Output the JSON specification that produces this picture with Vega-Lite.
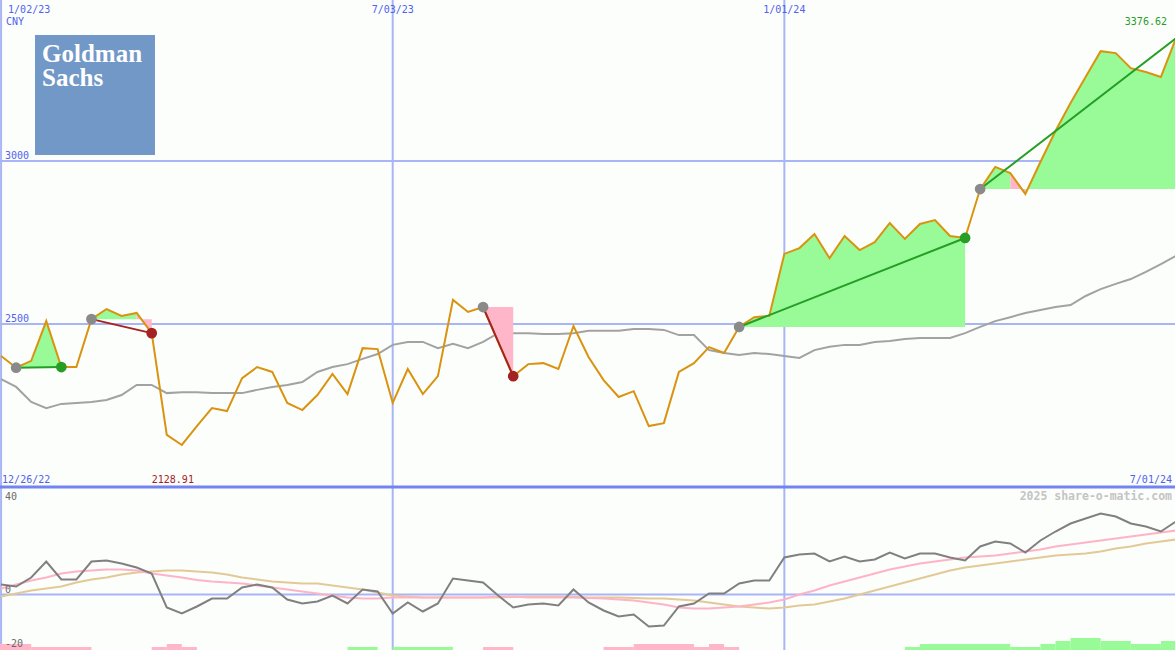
{
  "$schema": "https://vega.github.io/schema/vega-lite/v6.json",
  "background": "#fcfefc",
  "padding": 0,
  "spacing": 0,
  "bounds": "flush",
  "config": {"view": {"stroke": null}, "axis": {"disable": true}, "text": {"font": "DejaVu Sans Mono", "fontSize": 10}},
  "datasets": {
    "main": [
      {"d":"2023-01-02","p":2402,"ma":2331,"m":4.0,"f":2.4,"s":-0.8},
      {"d":"2023-01-09","p":2366,"ma":2307,"m":3.2,"f":4.0,"s":0.4},
      {"d":"2023-01-16","p":2387,"ma":2261,"m":6.8,"f":5.6,"s":1.6},
      {"d":"2023-01-23","p":2509,"ma":2242,"m":13.2,"f":6.8,"s":2.4},
      {"d":"2023-01-30","p":2368,"ma":2255,"m":6.0,"f":8.4,"s":3.2},
      {"d":"2023-02-06","p":2368,"ma":2258,"m":6.0,"f":9.2,"s":4.8},
      {"d":"2023-02-13","p":2515,"ma":2261,"m":13.2,"f":9.6,"s":6.0},
      {"d":"2023-02-20","p":2546,"ma":2267,"m":13.6,"f":10.0,"s":6.8},
      {"d":"2023-02-27","p":2525,"ma":2282,"m":12.4,"f":10.0,"s":8.0},
      {"d":"2023-03-06","p":2534,"ma":2313,"m":10.8,"f":9.6,"s":8.8},
      {"d":"2023-03-13","p":2472,"ma":2313,"m":8.4,"f":8.4,"s":9.2},
      {"d":"2023-03-20","p":2160,"ma":2288,"m":-5.2,"f":7.6,"s":9.6},
      {"d":"2023-03-27","p":2128.91,"ma":2291,"m":-7.6,"f":6.8,"s":9.6},
      {"d":"2023-04-03","p":2187,"ma":2291,"m":-4.8,"f":5.8,"s":9.2},
      {"d":"2023-04-10","p":2242,"ma":2288,"m":-1.6,"f":5.2,"s":8.8},
      {"d":"2023-04-17","p":2233,"ma":2288,"m":-1.6,"f":4.8,"s":8.0},
      {"d":"2023-04-24","p":2334,"ma":2288,"m":2.8,"f":4.4,"s":6.8},
      {"d":"2023-05-01","p":2368,"ma":2298,"m":4.0,"f":3.6,"s":6.0},
      {"d":"2023-05-08","p":2353,"ma":2307,"m":2.8,"f":2.8,"s":5.2},
      {"d":"2023-05-15","p":2258,"ma":2313,"m":-2.0,"f":2.0,"s":4.8},
      {"d":"2023-05-22","p":2236,"ma":2322,"m":-3.6,"f":1.2,"s":4.4},
      {"d":"2023-05-29","p":2282,"ma":2353,"m":-2.8,"f":0.4,"s":4.4},
      {"d":"2023-06-05","p":2347,"ma":2368,"m":-0.4,"f":-0.4,"s":3.6},
      {"d":"2023-06-12","p":2285,"ma":2377,"m":-3.6,"f":-1.2,"s":2.8},
      {"d":"2023-06-19","p":2426,"ma":2393,"m":2.0,"f":-1.6,"s":2.0},
      {"d":"2023-06-26","p":2423,"ma":2408,"m":1.2,"f":-1.6,"s":0.8},
      {"d":"2023-07-03","p":2258,"ma":2436,"m":-7.6,"f":-1.2,"s":-0.4},
      {"d":"2023-07-10","p":2362,"ma":2445,"m":-3.2,"f":-1.2,"s":-0.8},
      {"d":"2023-07-17","p":2285,"ma":2445,"m":-6.8,"f":-1.2,"s":-1.2},
      {"d":"2023-07-24","p":2340,"ma":2426,"m":-3.6,"f":-1.2,"s":-1.2},
      {"d":"2023-07-31","p":2574,"ma":2439,"m":6.4,"f":-1.2,"s":-1.2},
      {"d":"2023-08-07","p":2537,"ma":2426,"m":5.6,"f":-1.2,"s":-1.2},
      {"d":"2023-08-14","p":2552,"ma":2445,"m":4.8,"f":-1.2,"s":-1.2},
      {"d":"2023-08-21","p":2445,"ma":2472,"m":-0.4,"f":-0.8,"s":-1.2},
      {"d":"2023-08-28","p":2340,"ma":2472,"m":-5.2,"f":-0.8,"s":-1.0},
      {"d":"2023-09-04","p":2377,"ma":2472,"m":-4.0,"f":-1.2,"s":-0.8},
      {"d":"2023-09-11","p":2380,"ma":2469,"m":-3.6,"f":-1.2,"s":-0.8},
      {"d":"2023-09-18","p":2362,"ma":2469,"m":-4.4,"f":-1.2,"s":-0.8},
      {"d":"2023-09-25","p":2494,"ma":2472,"m":2.0,"f":-1.2,"s":-1.0},
      {"d":"2023-10-02","p":2399,"ma":2479,"m":-3.2,"f":-1.4,"s":-1.2},
      {"d":"2023-10-09","p":2328,"ma":2479,"m":-6.4,"f":-1.6,"s":-1.2},
      {"d":"2023-10-16","p":2276,"ma":2479,"m":-8.8,"f":-2.0,"s":-1.2},
      {"d":"2023-10-23","p":2294,"ma":2485,"m":-8.0,"f":-2.4,"s":-1.4},
      {"d":"2023-10-30","p":2187,"ma":2485,"m":-12.8,"f":-3.2,"s":-1.6},
      {"d":"2023-11-06","p":2196,"ma":2482,"m":-12.4,"f":-4.0,"s":-1.6},
      {"d":"2023-11-13","p":2353,"ma":2466,"m":-4.8,"f":-5.2,"s":-2.0},
      {"d":"2023-11-20","p":2380,"ma":2466,"m":-3.6,"f":-5.6,"s":-2.4},
      {"d":"2023-11-27","p":2429,"ma":2420,"m":0.4,"f":-5.6,"s":-3.2},
      {"d":"2023-12-04","p":2411,"ma":2411,"m":0.4,"f":-5.2,"s":-4.0},
      {"d":"2023-12-11","p":2491,"ma":2405,"m":4.4,"f":-4.8,"s":-4.8},
      {"d":"2023-12-18","p":2521,"ma":2411,"m":5.6,"f":-4.0,"s":-5.2},
      {"d":"2023-12-25","p":2525,"ma":2408,"m":5.6,"f":-3.2,"s":-5.6},
      {"d":"2024-01-01","p":2715,"ma":2402,"m":14.8,"f":-2.0,"s":-5.2},
      {"d":"2024-01-08","p":2733,"ma":2396,"m":16.0,"f":0.0,"s":-4.4},
      {"d":"2024-01-15","p":2776,"ma":2420,"m":16.4,"f":1.6,"s":-4.0},
      {"d":"2024-01-22","p":2702,"ma":2430,"m":13.2,"f":3.6,"s":-2.8},
      {"d":"2024-01-29","p":2770,"ma":2436,"m":15.2,"f":5.2,"s":-1.6},
      {"d":"2024-02-05","p":2727,"ma":2436,"m":13.2,"f":6.8,"s":0.0},
      {"d":"2024-02-12","p":2751,"ma":2445,"m":14.0,"f":8.4,"s":1.6},
      {"d":"2024-02-19","p":2810,"ma":2448,"m":16.8,"f":10.0,"s":3.2},
      {"d":"2024-02-26","p":2761,"ma":2454,"m":14.4,"f":11.2,"s":4.8},
      {"d":"2024-03-04","p":2807,"ma":2457,"m":16.4,"f":12.4,"s":6.4},
      {"d":"2024-03-11","p":2819,"ma":2457,"m":16.4,"f":13.2,"s":8.0},
      {"d":"2024-03-18","p":2770,"ma":2457,"m":14.8,"f":14.0,"s":9.6},
      {"d":"2024-03-25","p":2764,"ma":2472,"m":13.6,"f":14.8,"s":10.8},
      {"d":"2024-04-01","p":2914,"ma":2491,"m":19.2,"f":15.2,"s":11.6},
      {"d":"2024-04-08","p":2982,"ma":2509,"m":21.2,"f":15.6,"s":12.4},
      {"d":"2024-04-15","p":2963,"ma":2521,"m":20.4,"f":16.4,"s":13.2},
      {"d":"2024-04-22","p":2899,"ma":2534,"m":16.8,"f":17.2,"s":14.0},
      {"d":"2024-04-29","p":2997,"ma":2543,"m":21.6,"f":18.0,"s":14.8},
      {"d":"2024-05-06","p":3092,"ma":2552,"m":25.2,"f":19.2,"s":15.6},
      {"d":"2024-05-13","p":3178,"ma":2558,"m":28.4,"f":20.0,"s":16.0},
      {"d":"2024-05-20","p":3258,"ma":2586,"m":30.4,"f":20.8,"s":16.4},
      {"d":"2024-05-27","p":3337,"ma":2607,"m":32.4,"f":21.6,"s":17.2},
      {"d":"2024-06-03","p":3331,"ma":2623,"m":31.2,"f":22.4,"s":18.4},
      {"d":"2024-06-10","p":3285,"ma":2638,"m":28.4,"f":23.2,"s":19.2},
      {"d":"2024-06-17","p":3273,"ma":2660,"m":27.2,"f":24.0,"s":20.4},
      {"d":"2024-06-24","p":3258,"ma":2684,"m":25.2,"f":24.8,"s":21.2},
      {"d":"2024-07-01","p":3376.62,"ma":2709,"m":29.2,"f":25.6,"s":22.0}
    ],
    "fills": [
      {"d":"2023-01-09","p":2366,"b":2366,"g":"g1","tone":"up"},
      {"d":"2023-01-16","p":2387,"b":2366,"g":"g1","tone":"up"},
      {"d":"2023-01-23","p":2509,"b":2366,"g":"g1","tone":"up"},
      {"d":"2023-01-30","p":2368,"b":2366,"g":"g1","tone":"up"},
      {"d":"2023-02-13","p":2515,"b":2515,"g":"g2","tone":"up"},
      {"d":"2023-02-20","p":2546,"b":2515,"g":"g2","tone":"up"},
      {"d":"2023-02-27","p":2525,"b":2515,"g":"g2","tone":"up"},
      {"d":"2023-03-06","p":2534,"b":2515,"g":"g2","tone":"up"},
      {"d":"2023-03-06","p":2534,"b":2515,"g":"g3","tone":"down"},
      {"d":"2023-03-13","p":2472,"b":2515,"g":"g3","tone":"down"},
      {"d":"2023-08-14","p":2552,"b":2552,"g":"g4","tone":"down"},
      {"d":"2023-08-21","p":2445,"b":2552,"g":"g4","tone":"down"},
      {"d":"2023-08-28","p":2340,"b":2552,"g":"g4","tone":"down"},
      {"d":"2023-12-11","p":2491,"b":2491,"g":"g5","tone":"up"},
      {"d":"2023-12-18","p":2521,"b":2491,"g":"g5","tone":"up"},
      {"d":"2023-12-25","p":2525,"b":2491,"g":"g5","tone":"up"},
      {"d":"2024-01-01","p":2715,"b":2491,"g":"g5","tone":"up"},
      {"d":"2024-01-08","p":2733,"b":2491,"g":"g5","tone":"up"},
      {"d":"2024-01-15","p":2776,"b":2491,"g":"g5","tone":"up"},
      {"d":"2024-01-22","p":2702,"b":2491,"g":"g5","tone":"up"},
      {"d":"2024-01-29","p":2770,"b":2491,"g":"g5","tone":"up"},
      {"d":"2024-02-05","p":2727,"b":2491,"g":"g5","tone":"up"},
      {"d":"2024-02-12","p":2751,"b":2491,"g":"g5","tone":"up"},
      {"d":"2024-02-19","p":2810,"b":2491,"g":"g5","tone":"up"},
      {"d":"2024-02-26","p":2761,"b":2491,"g":"g5","tone":"up"},
      {"d":"2024-03-04","p":2807,"b":2491,"g":"g5","tone":"up"},
      {"d":"2024-03-11","p":2819,"b":2491,"g":"g5","tone":"up"},
      {"d":"2024-03-18","p":2770,"b":2491,"g":"g5","tone":"up"},
      {"d":"2024-03-25","p":2764,"b":2491,"g":"g5","tone":"up"},
      {"d":"2024-04-01","p":2914,"b":2914,"g":"g6","tone":"up"},
      {"d":"2024-04-08","p":2982,"b":2914,"g":"g6","tone":"up"},
      {"d":"2024-04-15","p":2963,"b":2914,"g":"g6","tone":"up"},
      {"d":"2024-04-15","p":2963,"b":2914,"g":"g7","tone":"down"},
      {"d":"2024-04-22","p":2899,"b":2914,"g":"g7","tone":"down"},
      {"d":"2024-04-22","p":2899,"b":2914,"g":"g8","tone":"up"},
      {"d":"2024-04-29","p":2997,"b":2914,"g":"g8","tone":"up"},
      {"d":"2024-05-06","p":3092,"b":2914,"g":"g8","tone":"up"},
      {"d":"2024-05-13","p":3178,"b":2914,"g":"g8","tone":"up"},
      {"d":"2024-05-20","p":3258,"b":2914,"g":"g8","tone":"up"},
      {"d":"2024-05-27","p":3337,"b":2914,"g":"g8","tone":"up"},
      {"d":"2024-06-03","p":3331,"b":2914,"g":"g8","tone":"up"},
      {"d":"2024-06-10","p":3285,"b":2914,"g":"g8","tone":"up"},
      {"d":"2024-06-17","p":3273,"b":2914,"g":"g8","tone":"up"},
      {"d":"2024-06-24","p":3258,"b":2914,"g":"g8","tone":"up"},
      {"d":"2024-07-01","p":3376.62,"b":2914,"g":"g8","tone":"up"}
    ],
    "trades": [
      {"d":"2023-01-09","p":2366,"t":"t1","kind":"entry","res":"win"},
      {"d":"2023-01-30","p":2368,"t":"t1","kind":"win","res":"win"},
      {"d":"2023-02-13","p":2515,"t":"t2","kind":"entry","res":"loss"},
      {"d":"2023-03-13","p":2472,"t":"t2","kind":"loss","res":"loss"},
      {"d":"2023-08-14","p":2552,"t":"t3","kind":"entry","res":"loss"},
      {"d":"2023-08-28","p":2340,"t":"t3","kind":"loss","res":"loss"},
      {"d":"2023-12-11","p":2491,"t":"t4","kind":"entry","res":"win"},
      {"d":"2024-03-25","p":2764,"t":"t4","kind":"win","res":"win"},
      {"d":"2024-04-01","p":2914,"t":"t5","kind":"entry","res":"win"},
      {"d":"2024-07-01","p":3376.62,"t":"t5","kind":"open","res":"win"}
    ],
    "bars": [
      {"d0":"2022-12-26","d1":"2023-01-16","lvl":2,"tone":"down"},
      {"d0":"2023-01-16","d1":"2023-02-13","lvl":1,"tone":"down"},
      {"d0":"2023-03-13","d1":"2023-03-20","lvl":1,"tone":"down"},
      {"d0":"2023-03-20","d1":"2023-03-27","lvl":2,"tone":"down"},
      {"d0":"2023-03-27","d1":"2023-04-03","lvl":1,"tone":"down"},
      {"d0":"2023-06-12","d1":"2023-06-26","lvl":1,"tone":"up"},
      {"d0":"2023-07-03","d1":"2023-07-31","lvl":1,"tone":"up"},
      {"d0":"2023-08-14","d1":"2023-08-28","lvl":1,"tone":"down"},
      {"d0":"2023-10-09","d1":"2023-10-23","lvl":1,"tone":"down"},
      {"d0":"2023-10-23","d1":"2023-11-20","lvl":2,"tone":"down"},
      {"d0":"2023-11-20","d1":"2023-11-27","lvl":1,"tone":"down"},
      {"d0":"2023-11-27","d1":"2023-12-04","lvl":2,"tone":"down"},
      {"d0":"2023-12-04","d1":"2023-12-11","lvl":1,"tone":"down"},
      {"d0":"2024-02-26","d1":"2024-03-04","lvl":1,"tone":"up"},
      {"d0":"2024-03-04","d1":"2024-04-15","lvl":2,"tone":"up"},
      {"d0":"2024-04-15","d1":"2024-04-29","lvl":1,"tone":"up"},
      {"d0":"2024-04-29","d1":"2024-05-06","lvl":2,"tone":"up"},
      {"d0":"2024-05-06","d1":"2024-05-13","lvl":3,"tone":"up"},
      {"d0":"2024-05-13","d1":"2024-05-27","lvl":4,"tone":"up"},
      {"d0":"2024-05-27","d1":"2024-06-10","lvl":3,"tone":"up"},
      {"d0":"2024-06-10","d1":"2024-06-24","lvl":2,"tone":"up"},
      {"d0":"2024-06-24","d1":"2024-07-08","lvl":3,"tone":"up"}
    ],
    "vgrid": [{"d":"2023-01-02"},{"d":"2023-07-03"},{"d":"2024-01-01"}],
    "hgrid": [{"v":2500},{"v":3000}],
    "xlab": [{"d":"2023-07-03","t":"7/03/23"},{"d":"2024-01-01","t":"1/01/24"}]
  },
  "vconcat": [
    {
      "width": 1175,
      "height": 487,
      "layer": [
        {"data":{"name":"vgrid"},"mark":{"type":"rule","color":"#a9b5f5","strokeWidth":2,"clip":true},
         "encoding":{"x":{"field":"d","type":"temporal","scale":{"type":"utc","domain":[{"year":2023,"month":1,"date":1,"hours":12,"utc":true},{"year":2024,"month":6,"date":30,"hours":13,"utc":true}]}}}},
        {"data":{"name":"hgrid"},"mark":{"type":"rule","color":"#a9b5f5","strokeWidth":2,"clip":true},
         "encoding":{"y":{"field":"v","type":"quantitative","scale":{"domain":[2000,3494],"zero":false,"nice":false}}}},
        {"data":{"name":"main"},"mark":{"type":"line","color":"#a2a2a2","strokeWidth":2,"clip":true},
         "encoding":{"x":{"field":"d","type":"temporal","scale":{"type":"utc","domain":[{"year":2023,"month":1,"date":1,"hours":12,"utc":true},{"year":2024,"month":6,"date":30,"hours":13,"utc":true}]}},
                     "y":{"field":"ma","type":"quantitative","scale":{"domain":[2000,3494],"zero":false,"nice":false}}}},
        {"data":{"name":"fills"},"mark":{"type":"area","opacity":1,"clip":true},
         "encoding":{"x":{"field":"d","type":"temporal","scale":{"type":"utc","domain":[{"year":2023,"month":1,"date":1,"hours":12,"utc":true},{"year":2024,"month":6,"date":30,"hours":13,"utc":true}]}},
                     "y":{"field":"p","type":"quantitative","stack":null,"scale":{"domain":[2000,3494],"zero":false,"nice":false}},
                     "y2":{"field":"b"},
                     "color":{"field":"tone","type":"nominal","legend":null,"scale":{"domain":["up","down","win","loss","entry"],"range":["#98fb98","#ffb6c8","#259e25","#a52222","#8a8a8a"]}},
                     "detail":{"field":"g","type":"nominal"}}},
        {"data":{"name":"main"},"mark":{"type":"line","color":"#d9930f","strokeWidth":2,"clip":true},
         "encoding":{"x":{"field":"d","type":"temporal","scale":{"type":"utc","domain":[{"year":2023,"month":1,"date":1,"hours":12,"utc":true},{"year":2024,"month":6,"date":30,"hours":13,"utc":true}]}},
                     "y":{"field":"p","type":"quantitative","scale":{"domain":[2000,3494],"zero":false,"nice":false}}}},
        {"data":{"name":"trades"},"mark":{"type":"line","strokeWidth":2,"clip":true},
         "encoding":{"x":{"field":"d","type":"temporal","scale":{"type":"utc","domain":[{"year":2023,"month":1,"date":1,"hours":12,"utc":true},{"year":2024,"month":6,"date":30,"hours":13,"utc":true}]}},
                     "y":{"field":"p","type":"quantitative","scale":{"domain":[2000,3494],"zero":false,"nice":false}},
                     "color":{"field":"res","type":"nominal","legend":null,"scale":{"domain":["up","down","win","loss","entry"],"range":["#98fb98","#ffb6c8","#259e25","#a52222","#8a8a8a"]}},
                     "detail":{"field":"t","type":"nominal"}}},
        {"data":{"name":"trades"},"transform":[{"filter":"datum.kind != 'open'"}],
         "mark":{"type":"circle","size":115,"opacity":1,"clip":true},
         "encoding":{"x":{"field":"d","type":"temporal","scale":{"type":"utc","domain":[{"year":2023,"month":1,"date":1,"hours":12,"utc":true},{"year":2024,"month":6,"date":30,"hours":13,"utc":true}]}},
                     "y":{"field":"p","type":"quantitative","scale":{"domain":[2000,3494],"zero":false,"nice":false}},
                     "color":{"field":"kind","type":"nominal","legend":null,"scale":{"domain":["up","down","win","loss","entry"],"range":["#98fb98","#ffb6c8","#259e25","#a52222","#8a8a8a"]}}}},
        {"data":{"values":[{}]},"mark":{"type":"rect","color":"#7198c7"},
         "encoding":{"x":{"datum":{"year":2023,"month":1,"date":17,"hours":18,"minutes":30,"utc":true},"type":"temporal","scale":{"type":"utc","domain":[{"year":2023,"month":1,"date":1,"hours":12,"utc":true},{"year":2024,"month":6,"date":30,"hours":13,"utc":true}]}},
                     "x2":{"datum":{"year":2023,"month":3,"date":14,"hours":12,"minutes":45,"utc":true}},
                     "y":{"datum":3386.5,"type":"quantitative","scale":{"domain":[2000,3494],"zero":false,"nice":false}},
                     "y2":{"datum":3018.4}}},
        {"data":{"values":[{}]},"mark":{"type":"text","text":"Goldman","font":"Liberation Serif","fontWeight":"bold","fontSize":25,"color":"#ffffff","align":"left","baseline":"alphabetic"},
         "encoding":{"x":{"datum":{"year":2023,"month":1,"date":21,"hours":0,"minutes":30,"utc":true},"type":"temporal","scale":{"type":"utc","domain":[{"year":2023,"month":1,"date":1,"hours":12,"utc":true},{"year":2024,"month":6,"date":30,"hours":13,"utc":true}]}},
                     "y":{"datum":3305.3,"type":"quantitative","scale":{"domain":[2000,3494],"zero":false,"nice":false}}}},
        {"data":{"values":[{}]},"mark":{"type":"text","text":"Sachs","font":"Liberation Serif","fontWeight":"bold","fontSize":25,"color":"#ffffff","align":"left","baseline":"alphabetic"},
         "encoding":{"x":{"datum":{"year":2023,"month":1,"date":21,"hours":0,"minutes":30,"utc":true},"type":"temporal","scale":{"type":"utc","domain":[{"year":2023,"month":1,"date":1,"hours":12,"utc":true},{"year":2024,"month":6,"date":30,"hours":13,"utc":true}]}},
                     "y":{"datum":3230.2,"type":"quantitative","scale":{"domain":[2000,3494],"zero":false,"nice":false}}}},
        {"data":{"values":[{}]},"mark":{"type":"text","text":"1/02/23","color":"#5062ee","align":"left","baseline":"alphabetic","dx":7,"dy":13},
         "encoding":{"x":{"datum":{"year":2023,"month":1,"date":2,"utc":true},"type":"temporal","scale":{"type":"utc","domain":[{"year":2023,"month":1,"date":1,"hours":12,"utc":true},{"year":2024,"month":6,"date":30,"hours":13,"utc":true}]}},
                     "y":{"datum":3494,"type":"quantitative","scale":{"domain":[2000,3494],"zero":false,"nice":false}}}},
        {"data":{"values":[{}]},"mark":{"type":"text","text":"CNY","color":"#5062ee","align":"left","baseline":"alphabetic","dx":5,"dy":25},
         "encoding":{"x":{"datum":{"year":2023,"month":1,"date":2,"utc":true},"type":"temporal","scale":{"type":"utc","domain":[{"year":2023,"month":1,"date":1,"hours":12,"utc":true},{"year":2024,"month":6,"date":30,"hours":13,"utc":true}]}},
                     "y":{"datum":3494,"type":"quantitative","scale":{"domain":[2000,3494],"zero":false,"nice":false}}}},
        {"data":{"name":"xlab"},"mark":{"type":"text","color":"#5062ee","align":"center","baseline":"alphabetic","dy":13},
         "encoding":{"x":{"field":"d","type":"temporal","scale":{"type":"utc","domain":[{"year":2023,"month":1,"date":1,"hours":12,"utc":true},{"year":2024,"month":6,"date":30,"hours":13,"utc":true}]}},
                     "y":{"datum":3494,"type":"quantitative","scale":{"domain":[2000,3494],"zero":false,"nice":false}},
                     "text":{"field":"t","type":"nominal"}}},
        {"data":{"name":"hgrid"},"mark":{"type":"text","color":"#5062ee","align":"left","baseline":"alphabetic","dx":5,"dy":-2},
         "encoding":{"x":{"datum":{"year":2023,"month":1,"date":1,"hours":12,"utc":true},"type":"temporal","scale":{"type":"utc","domain":[{"year":2023,"month":1,"date":1,"hours":12,"utc":true},{"year":2024,"month":6,"date":30,"hours":13,"utc":true}]}},
                     "y":{"field":"v","type":"quantitative","scale":{"domain":[2000,3494],"zero":false,"nice":false}},
                     "text":{"field":"v","type":"quantitative","format":"d"}}},
        {"data":{"values":[{}]},"mark":{"type":"text","text":"12/26/22","color":"#5062ee","align":"left","baseline":"alphabetic","dx":1,"dy":-4},
         "encoding":{"x":{"datum":{"year":2023,"month":1,"date":2,"utc":true},"type":"temporal","scale":{"type":"utc","domain":[{"year":2023,"month":1,"date":1,"hours":12,"utc":true},{"year":2024,"month":6,"date":30,"hours":13,"utc":true}]}},
                     "y":{"datum":2000,"type":"quantitative","scale":{"domain":[2000,3494],"zero":false,"nice":false}}}},
        {"data":{"values":[{}]},"mark":{"type":"text","text":"2128.91","color":"#a52222","align":"center","baseline":"alphabetic","dx":-9,"dy":-4},
         "encoding":{"x":{"datum":{"year":2023,"month":3,"date":27,"utc":true},"type":"temporal","scale":{"type":"utc","domain":[{"year":2023,"month":1,"date":1,"hours":12,"utc":true},{"year":2024,"month":6,"date":30,"hours":13,"utc":true}]}},
                     "y":{"datum":2000,"type":"quantitative","scale":{"domain":[2000,3494],"zero":false,"nice":false}}}},
        {"data":{"values":[{}]},"mark":{"type":"text","text":"7/01/24","color":"#5062ee","align":"right","baseline":"alphabetic","dx":-4,"dy":-4},
         "encoding":{"x":{"datum":{"year":2024,"month":7,"date":1,"utc":true},"type":"temporal","scale":{"type":"utc","domain":[{"year":2023,"month":1,"date":1,"hours":12,"utc":true},{"year":2024,"month":6,"date":30,"hours":13,"utc":true}]}},
                     "y":{"datum":2000,"type":"quantitative","scale":{"domain":[2000,3494],"zero":false,"nice":false}}}},
        {"data":{"values":[{}]},"mark":{"type":"text","text":"3376.62","color":"#259e25","align":"right","baseline":"alphabetic","dx":-9,"dy":25},
         "encoding":{"x":{"datum":{"year":2024,"month":7,"date":1,"utc":true},"type":"temporal","scale":{"type":"utc","domain":[{"year":2023,"month":1,"date":1,"hours":12,"utc":true},{"year":2024,"month":6,"date":30,"hours":13,"utc":true}]}},
                     "y":{"datum":3494,"type":"quantitative","scale":{"domain":[2000,3494],"zero":false,"nice":false}}}},
        {"data":{"values":[{}]},"mark":{"type":"rule","color":"#7383f0","strokeWidth":3,"clip":true},
         "encoding":{"y":{"datum":2000,"type":"quantitative","scale":{"domain":[2000,3494],"zero":false,"nice":false}}}}
      ]
    },
    {
      "width": 1175,
      "height": 163,
      "resolve": {"scale": {"y": "independent"}},
      "layer": [
        {"data":{"name":"vgrid"},"mark":{"type":"rule","color":"#a9b5f5","strokeWidth":2,"clip":true},
         "encoding":{"x":{"field":"d","type":"temporal","scale":{"type":"utc","domain":[{"year":2023,"month":1,"date":1,"hours":12,"utc":true},{"year":2024,"month":6,"date":30,"hours":13,"utc":true}]}}}},
        {"data":{"values":[{}]},"mark":{"type":"rule","color":"#a9b5f5","strokeWidth":2,"clip":true},
         "encoding":{"y":{"datum":0,"type":"quantitative","scale":{"domain":[-22.2,43],"zero":false,"nice":false}}}},
        {"data":{"name":"bars"},"mark":{"type":"rect","opacity":1,"clip":true},
         "encoding":{"x":{"field":"d0","type":"temporal","scale":{"type":"utc","domain":[{"year":2023,"month":1,"date":1,"hours":12,"utc":true},{"year":2024,"month":6,"date":30,"hours":13,"utc":true}]}},
                     "x2":{"field":"d1"},
                     "y":{"field":"lvl","type":"quantitative","scale":{"domain":[0,54.333],"zero":false,"nice":false}},
                     "y2":{"datum":0},
                     "color":{"field":"tone","type":"nominal","legend":null,"scale":{"domain":["up","down","win","loss","entry"],"range":["#98fb98","#ffb6c8","#259e25","#a52222","#8a8a8a"]}}}},
        {"data":{"name":"main"},"mark":{"type":"line","color":"#e3c996","strokeWidth":2,"clip":true},
         "encoding":{"x":{"field":"d","type":"temporal","scale":{"type":"utc","domain":[{"year":2023,"month":1,"date":1,"hours":12,"utc":true},{"year":2024,"month":6,"date":30,"hours":13,"utc":true}]}},
                     "y":{"field":"s","type":"quantitative","scale":{"domain":[-22.2,43],"zero":false,"nice":false}}}},
        {"data":{"name":"main"},"mark":{"type":"line","color":"#ffb3c6","strokeWidth":2,"clip":true},
         "encoding":{"x":{"field":"d","type":"temporal","scale":{"type":"utc","domain":[{"year":2023,"month":1,"date":1,"hours":12,"utc":true},{"year":2024,"month":6,"date":30,"hours":13,"utc":true}]}},
                     "y":{"field":"f","type":"quantitative","scale":{"domain":[-22.2,43],"zero":false,"nice":false}}}},
        {"data":{"name":"main"},"mark":{"type":"line","color":"#808080","strokeWidth":2,"clip":true},
         "encoding":{"x":{"field":"d","type":"temporal","scale":{"type":"utc","domain":[{"year":2023,"month":1,"date":1,"hours":12,"utc":true},{"year":2024,"month":6,"date":30,"hours":13,"utc":true}]}},
                     "y":{"field":"m","type":"quantitative","scale":{"domain":[-22.2,43],"zero":false,"nice":false}}}},
        {"data":{"values":[{}]},"mark":{"type":"text","text":"40","color":"#6a6a6a","align":"left","baseline":"alphabetic","dx":5,"dy":13},
         "encoding":{"x":{"datum":{"year":2023,"month":1,"date":1,"hours":12,"utc":true},"type":"temporal","scale":{"type":"utc","domain":[{"year":2023,"month":1,"date":1,"hours":12,"utc":true},{"year":2024,"month":6,"date":30,"hours":13,"utc":true}]}},
                     "y":{"datum":43,"type":"quantitative","scale":{"domain":[-22.2,43],"zero":false,"nice":false}}}},
        {"data":{"values":[{}]},"mark":{"type":"text","text":"0","color":"#6a6a6a","align":"left","baseline":"alphabetic","dx":5,"dy":-1.5},
         "encoding":{"x":{"datum":{"year":2023,"month":1,"date":1,"hours":12,"utc":true},"type":"temporal","scale":{"type":"utc","domain":[{"year":2023,"month":1,"date":1,"hours":12,"utc":true},{"year":2024,"month":6,"date":30,"hours":13,"utc":true}]}},
                     "y":{"datum":0,"type":"quantitative","scale":{"domain":[-22.2,43],"zero":false,"nice":false}}}},
        {"data":{"values":[{}]},"mark":{"type":"text","text":"-20","color":"#6a6a6a","align":"left","baseline":"alphabetic","dx":5,"dy":-3},
         "encoding":{"x":{"datum":{"year":2023,"month":1,"date":1,"hours":12,"utc":true},"type":"temporal","scale":{"type":"utc","domain":[{"year":2023,"month":1,"date":1,"hours":12,"utc":true},{"year":2024,"month":6,"date":30,"hours":13,"utc":true}]}},
                     "y":{"datum":-22.2,"type":"quantitative","scale":{"domain":[-22.2,43],"zero":false,"nice":false}}}},
        {"data":{"values":[{}]},"mark":{"type":"text","text":"2025 share-o-matic.com","color":"#c4c4c4","fontWeight":"bold","fontSize":11.5,"align":"right","baseline":"alphabetic","dx":-4,"dy":13},
         "encoding":{"x":{"datum":{"year":2024,"month":7,"date":1,"utc":true},"type":"temporal","scale":{"type":"utc","domain":[{"year":2023,"month":1,"date":1,"hours":12,"utc":true},{"year":2024,"month":6,"date":30,"hours":13,"utc":true}]}},
                     "y":{"datum":43,"type":"quantitative","scale":{"domain":[-22.2,43],"zero":false,"nice":false}}}},
        {"data":{"values":[{}]},"mark":{"type":"rule","color":"#7383f0","strokeWidth":3,"clip":true},
         "encoding":{"y":{"datum":43,"type":"quantitative","scale":{"domain":[-22.2,43],"zero":false,"nice":false}}}}
      ]
    }
  ]
}
